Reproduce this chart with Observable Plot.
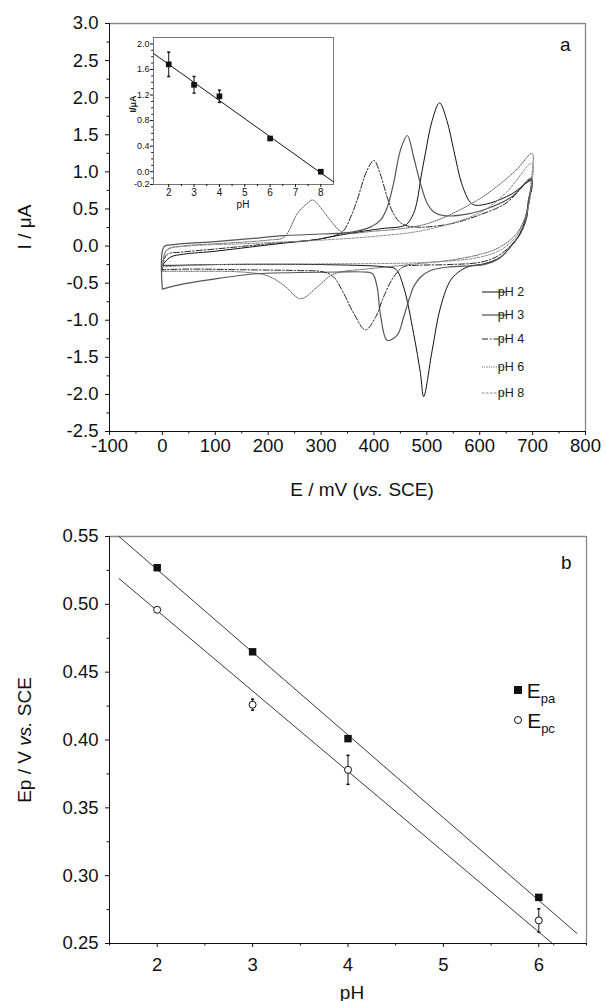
<!DOCTYPE html>
<html><head><meta charset="utf-8">
<script src="https://cdn.jsdelivr.net/npm/d3@7"></script>
<script src="https://cdn.jsdelivr.net/npm/@observablehq/plot@0.6"></script>
<style>
body{margin:0;background:#fff;}
#wrap{position:relative;width:606px;height:1001px;overflow:hidden;font-family:"Liberation Sans",Arial,sans-serif;}
#wrap svg{position:absolute;overflow:visible;}
</style></head><body><div id="wrap"></div>
<script>
const FONT = '"Liberation Sans", Arial, sans-serif';

// ---------- Panel a: cyclic voltammograms (E in mV, I in µA) ----------
const pH2E = [0, 15, 40, 100, 170, 230, 290, 330, 380, 420, 450, 463, 475, 482, 489, 497, 510, 524, 538, 551, 566, 582, 592, 620, 660, 698, 692, 689, 677, 658, 639, 608, 582, 564, 545, 526, 510, 494, 488, 475, 456, 441, 420, 300, 100, 20, 0];
const pH2I = [-0.26, -0.15, -0.11, -0.07, -0.01, 0.04, 0.085, 0.14, 0.2, 0.24, 0.26, 0.30, 0.44, 0.62, 0.93, 1.24, 1.69, 1.93, 1.69, 1.29, 0.84, 0.59, 0.55, 0.58, 0.7, 0.88, 0.61, 0.39, 0.17, -0.01, -0.15, -0.24, -0.27, -0.33, -0.46, -0.82, -1.41, -2.03, -1.72, -1.18, -0.55, -0.31, -0.28, -0.25, -0.25, -0.26, -0.26];
const pH3E = [0, 3, 22, 100, 166, 230, 330, 343, 368, 393, 412, 425, 437, 450, 463, 475, 488, 501, 513, 532, 576, 620, 660, 698, 692, 688, 676, 657, 638, 607, 570, 544, 507, 488, 475, 466, 456, 444, 425, 412, 406, 397, 381, 330, 185, 166, 103, 40, 0];
const pH3I = [-0.58, -0.01, 0.02, 0.06, 0.10, 0.14, 0.17, 0.175, 0.20, 0.255, 0.345, 0.52, 0.84, 1.29, 1.49, 1.2, 0.84, 0.57, 0.46, 0.41, 0.43, 0.52, 0.66, 0.92, 0.6, 0.38, 0.16, -0.02, -0.16, -0.25, -0.27, -0.28, -0.33, -0.42, -0.55, -0.73, -0.96, -1.2, -1.27, -0.91, -0.55, -0.37, -0.35, -0.35, -0.37, -0.38, -0.44, -0.51, -0.58];
const pH4E = [0, 8, 40, 100, 200, 300, 340, 356, 368, 387, 400, 412, 425, 437, 453, 481, 545, 600, 650, 698, 690, 676, 655, 630, 600, 540, 480, 456, 437, 418, 403, 384, 362, 343, 324, 305, 250, 150, 50, 0];
const pH4I = [-0.32, -0.12, -0.08, -0.04, 0.03, 0.1, 0.19, 0.39, 0.615, 1.02, 1.154, 0.97, 0.66, 0.435, 0.3, 0.255, 0.3, 0.42, 0.58, 0.9, 0.5, 0.17, -0.02, -0.15, -0.22, -0.25, -0.26, -0.28, -0.42, -0.69, -0.96, -1.13, -0.91, -0.64, -0.42, -0.35, -0.33, -0.32, -0.31, -0.32];
const pH6E = [0, 8, 40, 100, 200, 230, 255, 273, 284, 299, 318, 340, 400, 500, 595, 639, 671, 699, 697, 690, 670, 639, 607, 545, 480, 400, 337, 318, 293, 261, 230, 198, 150, 50, 0];
const pH6I = [-0.34, -0.06, 0.0, 0.03, 0.08, 0.12, 0.435, 0.57, 0.62, 0.52, 0.345, 0.19, 0.2, 0.3, 0.615, 0.84, 1.04, 1.25, 0.84, 0.48, 0.17, -0.01, -0.1, -0.19, -0.24, -0.3, -0.35, -0.4, -0.55, -0.71, -0.53, -0.4, -0.35, -0.34, -0.34];
const pH8E = [0, 8, 50, 150, 300, 400, 500, 600, 650, 699, 696, 688, 668, 640, 600, 500, 300, 100, 0];
const pH8I = [-0.28, -0.05, 0.0, 0.03, 0.08, 0.13, 0.22, 0.45, 0.72, 1.12, 0.72, 0.42, 0.12, -0.05, -0.15, -0.22, -0.24, -0.25, -0.28];
const cvLabels = ["pH 2", "pH 3", "pH 4", "pH 6", "pH 8"];
const eTicks = [-100, 0, 100, 200, 300, 400, 500, 600, 700, 800];
const iTicks = [-2.5, -2.0, -1.5, -1.0, -0.5, 0.0, 0.5, 1.0, 1.5, 2.0, 2.5, 3.0];

// ---------- Inset: peak current vs pH ----------
const insetPH = [2, 3, 4, 6, 8];
const insetI = [1.68, 1.36, 1.18, 0.52, 0.0];
const insetErr = [0.19, 0.13, 0.095, 0.02, 0.02];
const insetFitPH = [1.4, 8.5];
const insetFitI = [1.85, -0.16];
const insetXTicks = [2, 3, 4, 5, 6, 7, 8];
const insetYTicks = [-0.2, 0.0, 0.4, 0.8, 1.2, 1.6, 2.0];

// ---------- Panel b: peak potentials vs pH ----------
const bPH = [2, 3, 4, 6];
const Epa = [0.527, 0.465, 0.401, 0.284];
const Epc = [0.496, 0.426, 0.378, 0.267];
const EpcErr = [0.0015, 0.004, 0.0107, 0.0086];
const fitPaPH = [1.6, 6.4];
const fitPaE = [0.55, 0.2574];
const fitPcPH = [1.6, 6.16];
const fitPcE = [0.519, 0.249];
const bXTicks = [2, 3, 4, 5, 6];
const bYTicks = [0.25, 0.30, 0.35, 0.40, 0.45, 0.50, 0.55];

// ---------- styles ----------
const styles = {
  "pH 2": {stroke: "#111", dash: null, w: 1},
  "pH 3": {stroke: "#555", dash: null, w: 1.2},
  "pH 4": {stroke: "#222", dash: "6,2,1.5,2", w: 1},
  "pH 6": {stroke: "#555", dash: "1,1.3", w: 1},
  "pH 8": {stroke: "#888", dash: "2.5,1.5", w: 1}
};
const cvE = [pH2E, pH3E, pH4E, pH6E, pH8E];
const cvI = [pH2I, pH3I, pH4I, pH6I, pH8I];
const cvRows = cvLabels.flatMap((lab, k) => cvE[k].map((e, i) => ({ph: lab, E: e, I: cvI[k][i]})));

const wrap = document.getElementById("wrap");
const minorOf = (ticks, step) => ticks.slice(0, -1).map(t => t + step);
const blank = () => "";
const minorX = (ticks, size) => Plot.axisX({ticks, tickSize: size, tickFormat: blank, label: null});
const minorY = (ticks, size) => Plot.axisY({ticks, tickSize: size, tickFormat: blank, label: null});
const TF = 18.5; // tick font
const LF = 19;   // axis title font

// ================= Panel a =================
const xA = [-100, 800], yA = [-2.5, 3.0];
const topPlot = Plot.plot({
  width: 606, height: 510,
  marginTop: 23, marginBottom: 79, marginLeft: 109, marginRight: 21,
  style: {fontFamily: FONT, fontSize: TF + "px", color: "#111", background: "transparent", overflow: "visible"},
  x: {domain: xA}, y: {domain: yA},
  marks: [
    Plot.axisX({ticks: eTicks, tickSize: 4, tickPadding: 3, tickFormat: d => String(d), label: null, fontSize: TF}),
    minorX(minorOf(eTicks, 50), 2.5),
    Plot.axisY({ticks: iTicks, tickSize: 4, tickPadding: 7, tickFormat: d => d.toFixed(1), label: null, fontSize: TF}),
    minorY(minorOf(iTicks, 0.25), 2.5),
    Plot.ruleY([yA[1]], {stroke: "#888", strokeWidth: 1.3}),
    Plot.ruleX([xA[1]], {stroke: "#888", strokeWidth: 1.3}),
    Plot.ruleY([yA[0]], {stroke: "#111"}),
    Plot.ruleX([xA[0]], {stroke: "#111"}),
    ...cvLabels.map(lab => Plot.line(cvRows.filter(d => d.ph === lab), {
      x: "E", y: "I", curve: "catmull-rom", stroke: styles[lab].stroke,
      strokeWidth: styles[lab].w, strokeDasharray: styles[lab].dash
    })),
    Plot.text(["a"], {frameAnchor: "top-right", dx: -15, dy: 14, fontSize: 19, fill: "#111"})
  ]
});
topPlot.style.left = "0px"; topPlot.style.top = "0px";
wrap.appendChild(topPlot);
{
  const s = d3.select(topPlot);
  s.append("text").attr("transform", "translate(24,227) rotate(-90)").attr("text-anchor", "middle")
    .attr("dominant-baseline", "central").attr("font-size", LF).attr("fill", "#111").text("I / μA");
  const t = s.append("text").attr("x", 362).attr("y", 489).attr("text-anchor", "middle")
    .attr("dominant-baseline", "central").attr("font-size", LF).attr("fill", "#111");
  t.append("tspan").text("E / mV (");
  t.append("tspan").attr("font-style", "italic").text("vs.");
  t.append("tspan").text(" SCE)");
  const lg = s.append("g");
  const ly = [292, 315, 339, 367, 393];
  cvLabels.forEach((lab, i) => {
    lg.append("line").attr("x1", 482).attr("x2", 507).attr("y1", ly[i]).attr("y2", ly[i])
      .attr("stroke", lab === "pH 3" ? "#888" : styles[lab].stroke)
      .attr("stroke-width", lab === "pH 3" ? 1.8 : styles[lab].w)
      .attr("stroke-dasharray", styles[lab].dash);
    lg.append("text").attr("x", 511).attr("y", ly[i]).attr("dominant-baseline", "central")
      .attr("font-size", 12.5).attr("fill", "#222").text(lab);
  });
}

// ================= Inset =================
const xI = [1.4, 8.5], yI = [-0.2, 2.1];
const insetRows = insetPH.map((p, i) => ({p, v: insetI[i], e: insetErr[i]}));
const capSym = {draw(ctx, size) { const w = Math.sqrt(size); ctx.moveTo(-w / 2, 0); ctx.lineTo(w / 2, 0); }};
const inset = Plot.plot({
  width: 220, height: 182,
  marginTop: 5, marginBottom: 30, marginLeft: 35, marginRight: 5,
  style: {fontFamily: FONT, fontSize: "9px", color: "#111", background: "transparent", overflow: "visible"},
  x: {domain: xI}, y: {domain: yI},
  marks: [
    Plot.frame({stroke: "#777"}),
    Plot.axisX({ticks: insetXTicks, tickSize: 3, tickPadding: 1, tickFormat: d => String(d), label: null, fontSize: 10}),
    minorX(minorOf(insetXTicks, 0.5), 2),
    Plot.axisY({ticks: insetYTicks, tickSize: 3, tickPadding: 1, tickFormat: d => d.toFixed(1), label: null, fontSize: 9}),
    minorY(d3.range(-0.1, 2.05, 0.1).map(v => +v.toFixed(1)).filter(v => !insetYTicks.includes(v)), 1.8),
    Plot.line(insetFitPH.map((p, i) => ({p, v: insetFitI[i]})), {x: "p", y: "v", stroke: "#111", strokeWidth: 1}),
    Plot.ruleX(insetRows, {x: "p", y1: d => d.v - d.e, y2: d => d.v + d.e, stroke: "#111"}),
    Plot.dot(insetRows, {x: "p", y: d => d.v + d.e, symbol: capSym, r: 1.7, stroke: "#111", fill: "none"}),
    Plot.dot(insetRows, {x: "p", y: d => d.v - d.e, symbol: capSym, r: 1.7, stroke: "#111", fill: "none"}),
    Plot.dot(insetRows, {x: "p", y: "v", symbol: "square", r: 3.2, fill: "#111", stroke: "none"})
  ]
});
inset.style.left = "118px"; inset.style.top = "32px";
wrap.appendChild(inset);
{
  const s = d3.select(inset);
  s.append("text").attr("transform", "translate(15,72) rotate(-90)").attr("text-anchor", "middle")
    .attr("dominant-baseline", "central").attr("font-size", 9).attr("font-weight", "bold").attr("fill", "#111").text("I/μA");
  s.append("text").attr("x", 125).attr("y", 172).attr("text-anchor", "middle")
    .attr("dominant-baseline", "central").attr("font-size", 10).attr("fill", "#111").text("pH");
}

// ================= Panel b =================
const xB = [1.5, 6.5], yB = [0.25, 0.55];
const paRows = bPH.map((p, i) => ({p, v: Epa[i]}));
const pcRows = bPH.map((p, i) => ({p, v: Epc[i], e: EpcErr[i]}));
const botPlot = Plot.plot({
  width: 606, height: 491,
  marginTop: 26, marginBottom: 58, marginLeft: 109, marginRight: 20,
  style: {fontFamily: FONT, fontSize: TF + "px", color: "#111", background: "transparent", overflow: "visible"},
  x: {domain: xB}, y: {domain: yB},
  marks: [
    Plot.axisX({ticks: bXTicks, tickSize: 4, tickPadding: 10, tickFormat: d => String(d), label: null, fontSize: TF}),
    minorX([1.5, ...minorOf(bXTicks, 0.5), 6.5], 2.5),
    Plot.axisY({ticks: bYTicks, tickSize: 4, tickPadding: 7, tickFormat: d => d.toFixed(2), label: null, fontSize: TF}),
    minorY(minorOf(bYTicks, 0.025), 2.5),
    Plot.ruleY([yB[1]], {stroke: "#888", strokeWidth: 1.3}),
    Plot.ruleX([xB[1]], {stroke: "#888", strokeWidth: 1.3}),
    Plot.ruleY([yB[0]], {stroke: "#111"}),
    Plot.ruleX([xB[0]], {stroke: "#111"}),
    Plot.line(fitPaPH.map((p, i) => ({p, v: fitPaE[i]})), {x: "p", y: "v", stroke: "#222", strokeWidth: 0.9}),
    Plot.line(fitPcPH.map((p, i) => ({p, v: fitPcE[i]})), {x: "p", y: "v", stroke: "#222", strokeWidth: 0.9}),
    Plot.ruleX(pcRows, {x: "p", y1: d => d.v - d.e, y2: d => d.v + d.e, stroke: "#111"}),
    Plot.dot(pcRows, {x: "p", y: d => d.v + d.e, symbol: capSym, r: 1.8, stroke: "#111", fill: "none"}),
    Plot.dot(pcRows, {x: "p", y: d => d.v - d.e, symbol: capSym, r: 1.8, stroke: "#111", fill: "none"}),
    Plot.dot(paRows, {x: "p", y: "v", symbol: "square", r: 4.2, fill: "#111", stroke: "none"}),
    Plot.dot(pcRows, {x: "p", y: "v", r: 3.5, fill: "#fff", stroke: "#111", strokeWidth: 1}),
    Plot.text(["b"], {frameAnchor: "top-right", dx: -15, dy: 19, fontSize: 19, fill: "#111"})
  ]
});
botPlot.style.left = "0px"; botPlot.style.top = "510px";
wrap.appendChild(botPlot);
{
  const s = d3.select(botPlot);
  const t = s.append("text").attr("transform", "translate(24,230) rotate(-90)").attr("text-anchor", "middle")
    .attr("dominant-baseline", "central").attr("font-size", LF).attr("fill", "#111");
  t.append("tspan").text("Ep / V ");
  t.append("tspan").attr("font-style", "italic").text("vs.");
  t.append("tspan").text(" SCE");
  s.append("text").attr("x", 352).attr("y", 482).attr("text-anchor", "middle")
    .attr("dominant-baseline", "central").attr("font-size", LF).attr("fill", "#111").text("pH");
  const lg = s.append("g");
  lg.append("rect").attr("x", 514).attr("y", 176).attr("width", 8).attr("height", 8).attr("fill", "#111");
  const t1 = lg.append("text").attr("x", 541).attr("y", 188).attr("font-size", 21).attr("fill", "#111");
  t1.append("tspan").text("E");
  t1.append("tspan").attr("font-size", 13).attr("dy", 5).text("pa");
  lg.append("circle").attr("cx", 518).attr("cy", 210).attr("r", 3.5).attr("fill", "#fff").attr("stroke", "#111");
  const t2 = lg.append("text").attr("x", 541).attr("y", 218).attr("font-size", 21).attr("fill", "#111");
  t2.append("tspan").text("E");
  t2.append("tspan").attr("font-size", 13).attr("dy", 5).text("pc");
}
</script></body></html>
